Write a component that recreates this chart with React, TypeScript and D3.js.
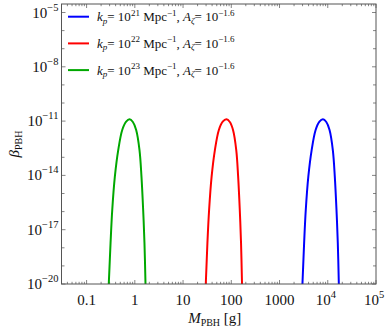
import React from 'react';
import * as d3 from 'd3';

// log10(M / g) and log10(beta)
const greenLogM = [-0.56, -0.539, -0.503, -0.468, -0.414, -0.344, -0.261, -0.18, -0.11, -0.04, 0.028, 0.097, 0.138, 0.173, 0.2, 0.221, 0.23];
const greenLogBeta = [-21, -19.94, -17.73, -15.91, -14.07, -12.6, -11.49, -11.03, -10.9, -11.05, -11.49, -12.6, -14.07, -15.91, -17.73, -19.94, -21];
const redLogM = [1.45, 1.472, 1.505, 1.54, 1.592, 1.66, 1.742, 1.822, 1.9, 1.97, 2.036, 2.103, 2.142, 2.176, 2.202, 2.222, 2.232];
const redLogBeta = [-21, -19.94, -17.73, -15.91, -14.07, -12.6, -11.49, -11.03, -10.9, -11.05, -11.49, -12.6, -14.07, -15.91, -17.73, -19.94, -21];
const blueLogM = [3.455, 3.476, 3.51, 3.544, 3.597, 3.666, 3.748, 3.827, 3.9, 3.97, 4.037, 4.105, 4.146, 4.181, 4.208, 4.229, 4.238];
const blueLogBeta = [-21, -19.94, -17.73, -15.91, -14.07, -12.6, -11.49, -11.03, -10.9, -11.05, -11.49, -12.6, -14.07, -15.91, -17.73, -19.94, -21];

const seriesNames = ['21', '22', '23'];
const seriesColors = ['#0000ff', '#ff0000', '#00a800'];

const xTickValues = [0.1, 1, 10, 100, 1000, 1e4, 1e5];
const xTickLabels = ['0.1', '1', '10', '100', '1000', '10^4', '10^5'];
const yTickExps = [-5, -8, -11, -14, -17, -20];

const W = 388, H = 332;
const M = { left: 61.5, right: 12, top: 4, bottom: 48 };

const serif = '"Liberation Serif", "DejaVu Serif", serif';

export default function App() {
  const x = d3.scaleLog().domain([Math.pow(10, -1.52), 1e5]).range([M.left, W - M.right]);
  const y = d3.scaleLog().domain([1e-20, Math.pow(10, -4.53)]).range([H - M.bottom, M.top]);
  const [x0, x1] = x.range();
  const [y0, y1] = y.range();

  const line = d3.line<[number, number]>()
    .x(d => x(Math.pow(10, d[0])))
    .y(d => y(Math.pow(10, d[1])))
    .curve(d3.curveCatmullRom);

  const series = [
    { lm: blueLogM, lb: blueLogBeta },
    { lm: redLogM, lb: redLogBeta },
    { lm: greenLogM, lb: greenLogBeta },
  ];

  // x ticks
  const xMajor: number[] = [];
  const xMinor: number[] = [];
  for (let e = -2; e <= 5; e++) {
    const base = Math.pow(10, e);
    if (base >= x.domain()[0] && base <= x.domain()[1]) xMajor.push(base);
    for (let k = 2; k <= 9; k++) {
      const v = k * base;
      if (v >= x.domain()[0] && v <= x.domain()[1]) xMinor.push(v);
    }
  }
  const yMajor = d3.range(-20, -4).map(e => Math.pow(10, e));

  const frame = '#555';
  const tickColor = '#666';

  return (
    <svg width={W} height={H} style={{ position: 'absolute', left: 0, top: 0, background: '#fff' }}
      fontFamily={serif}>
      <defs>
        <clipPath id="plot-clip">
          <rect x={x0} y={y1} width={x1 - x0} height={y0 - y1} />
        </clipPath>
      </defs>

      {/* ticks */}
      <g stroke={tickColor} strokeWidth={0.8}>
        {xMajor.map((v, i) => (
          <g key={'xM' + i}>
            <line x1={x(v)} x2={x(v)} y1={y0} y2={y0 - 4} />
            <line x1={x(v)} x2={x(v)} y1={y1} y2={y1 + 4} />
          </g>
        ))}
        {xMinor.map((v, i) => (
          <g key={'xm' + i}>
            <line x1={x(v)} x2={x(v)} y1={y0} y2={y0 - 2.2} />
            <line x1={x(v)} x2={x(v)} y1={y1} y2={y1 + 2.2} />
          </g>
        ))}
        {yMajor.map((v, i) => {
          const labeled = yTickExps.includes(Math.round(Math.log10(v)));
          const len = labeled ? 4 : 3;
          return (
            <g key={'y' + i}>
              <line x1={x0} x2={x0 + len} y1={y(v)} y2={y(v)} />
              <line x1={x1} x2={x1 - len} y1={y(v)} y2={y(v)} />
            </g>
          );
        })}
      </g>

      {/* curves */}
      <g clipPath="url(#plot-clip)" fill="none" strokeWidth={2}>
        {series.map((s, i) => (
          <path key={i} d={line(s.lm.map((m, j) => [m, s.lb[j]] as [number, number])) || ''}
            stroke={seriesColors[i]} />
        ))}
      </g>

      {/* frame */}
      <rect x={x0} y={y1} width={x1 - x0} height={y0 - y1} fill="none" stroke={frame} strokeWidth={1} />

      {/* x tick labels */}
      <g fontSize={15} fill="#111" textAnchor="middle">
        {xTickValues.map((v, i) => {
          const lab = xTickLabels[i];
          if (lab.startsWith('10^')) {
            return (
              <text key={i} x={x(v) - 2} y={y0 + 21}>
                10<tspan dy={-7} fontSize={10.5}>{lab.slice(3)}</tspan>
              </text>
            );
          }
          return <text key={i} x={x(v)} y={y0 + 21}>{lab}</text>;
        })}
      </g>

      {/* y tick labels */}
      <g fontSize={15} fill="#111" textAnchor="end">
        {yTickExps.map(e => (
          <text key={e} x={x0 - 3} y={y(Math.pow(10, e)) + 5}>
            10<tspan dy={-7} fontSize={10.5}>{'\u2212' + Math.abs(e)}</tspan>
          </text>
        ))}
      </g>

      {/* axis titles */}
      <text x={(x0 + x1) / 2 - 4} y={H - 9} fontSize={15} textAnchor="middle" fill="#111">
        <tspan fontStyle="italic">M</tspan>
        <tspan dy={3} fontSize={10}>PBH</tspan>
        <tspan dy={-3}> [g]</tspan>
      </text>
      <text transform={`translate(19, ${(y0 + y1) / 2}) rotate(-90)`} fontSize={15} textAnchor="middle" fill="#111">
        <tspan fontStyle="italic">β</tspan>
        <tspan dy={3} fontSize={10}>PBH</tspan>
      </text>

      {/* legend */}
      <g fontSize={13} fill="#111">
        {seriesNames.map((n, i) => {
          const ly = 16.7 + i * 26.7;
          return (
            <g key={n}>
              <line x1={68} x2={89} y1={ly} y2={ly} stroke={seriesColors[i]} strokeWidth={2} />
              <text x={97} y={ly + 4.5}>
                <tspan fontStyle="italic">k</tspan>
                <tspan dy={2.5} fontSize={9} fontStyle="italic">p</tspan>
                <tspan dy={-2.5}>= 10</tspan>
                <tspan dy={-5.5} fontSize={9}>{n}</tspan>
                <tspan dy={5.5}> Mpc</tspan>
                <tspan dy={-5.5} fontSize={9}>−1</tspan>
                <tspan dy={5.5}>,</tspan>
                <tspan x={183} fontStyle="italic">A</tspan>
                <tspan dy={2.5} fontSize={9} fontStyle="italic">ζ</tspan>
                <tspan dy={-2.5}>= 10</tspan>
                <tspan dy={-5.5} fontSize={9}>−1.6</tspan>
              </text>
            </g>
          );
        })}
      </g>
    </svg>
  );
}
